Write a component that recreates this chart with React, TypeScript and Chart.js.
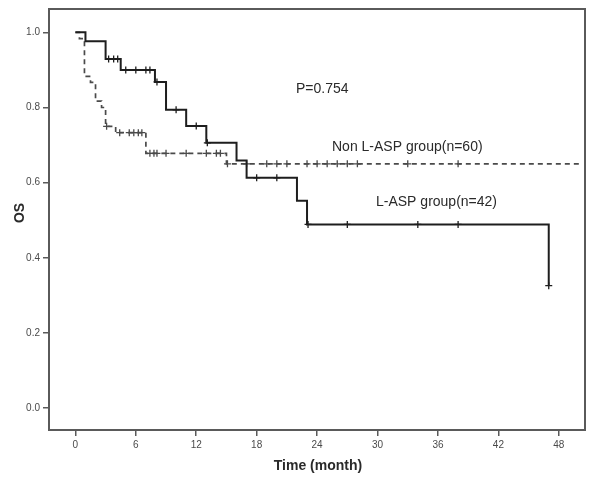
import React, { useEffect, useRef } from 'react';
import { Chart, registerables } from 'chart.js';

Chart.register(...registerables);

// Tick values
const xTicks = [0, 6, 12, 18, 24, 30, 36, 42, 48];
const yTicks = [0, 0.2, 0.4, 0.6, 0.8, 1.0];

// L-ASP group (n=42) — solid Kaplan-Meier steps
const lAspTimes = [0, 1, 3, 4.5, 7.9, 9, 11, 13, 16, 17, 22, 23, 47];
const lAspSurv = [1, 0.976, 0.929, 0.9, 0.868, 0.794, 0.751, 0.706, 0.659, 0.613, 0.552, 0.489, 0.326];
const lAspCensorTimes = [3.3, 3.8, 4.2, 5, 6, 7, 7.4, 8.1, 10, 12, 13.1, 18, 20, 23.1, 27, 34, 38, 47];
const lAspCensorSurv = [0.929, 0.929, 0.929, 0.9, 0.9, 0.9, 0.9, 0.868, 0.794, 0.751, 0.706, 0.613, 0.613, 0.489, 0.489, 0.489, 0.489, 0.326];

// Non L-ASP group (n=60) — dashed Kaplan-Meier steps
const nonTimes = [0, 0.4, 0.9, 1.5, 2.0, 2.6, 3.0, 4.0, 7.0, 15.0, 50.2];
const nonSurv = [1, 0.983, 0.883, 0.867, 0.817, 0.8, 0.75, 0.733, 0.678, 0.65, 0.65];
const nonCensorTimes = [3.1, 4.4, 5.35, 5.8, 6.25, 6.6, 7.4, 7.8, 8.1, 9, 11, 13, 14, 14.4, 15.1, 17, 19, 20, 21, 23, 24, 25, 26, 27, 28, 33, 38];
const nonCensorSurv = [0.75, 0.733, 0.733, 0.733, 0.733, 0.733, 0.678, 0.678, 0.678, 0.678, 0.678, 0.678, 0.678, 0.678, 0.65, 0.65, 0.65, 0.65, 0.65, 0.65, 0.65, 0.65, 0.65, 0.65, 0.65, 0.65, 0.65];

const pText = 'P=0.754';
const nonLabel = 'Non L-ASP group(n=60)';
const lAspLabel = 'L-ASP group(n=42)';
const xTitle = 'Time (month)';
const yTitle = 'OS';

const toXY = (xs: number[], ys: number[]) => xs.map((x, i) => ({ x, y: ys[i] }));

const FRAME = '#5a5a5a';
const TEXT = '#2a2a2a';
const TICK_TEXT = '#4a4a4a';
const SOLID = '#1e1e1e';
const DASHED = '#4a4a4a';
const FONT = "'Liberation Sans', Arial, sans-serif";

const overlay = {
  id: 'overlay',
  afterDraw(chart: any) {
    const { ctx, chartArea: a } = chart;
    ctx.save();
    ctx.strokeStyle = FRAME;
    ctx.lineWidth = 2;
    ctx.strokeRect(a.left, a.top, a.right - a.left, a.bottom - a.top);

    ctx.fillStyle = TEXT;
    ctx.font = `14px ${FONT}`;
    ctx.textAlign = 'left';
    ctx.textBaseline = 'middle';
    ctx.fillText(pText, 296, 89);
    ctx.fillText(nonLabel, 332, 147);
    ctx.fillText(lAspLabel, 376, 202);

    ctx.font = `bold 14px ${FONT}`;
    ctx.textAlign = 'center';
    ctx.fillText(xTitle, 318, 466);
    ctx.translate(20, 213);
    ctx.rotate(-Math.PI / 2);
    ctx.fillText(yTitle, 0, 0);
    ctx.restore();
  },
};

export default function App() {
  const ref = useRef<HTMLCanvasElement | null>(null);

  useEffect(() => {
    if (!ref.current) return;
    const chart = new Chart(ref.current, {
      type: 'line',
      data: {
        datasets: [
          {
            label: 'L-ASP',
            data: toXY(lAspTimes, lAspSurv),
            stepped: 'before',
            borderColor: SOLID,
            borderWidth: 2,
            pointRadius: 0,
            fill: false,
            order: 1,
          },
          {
            label: 'L-ASP censored',
            data: toXY(lAspCensorTimes, lAspCensorSurv),
            showLine: false,
            pointStyle: 'cross',
            pointRadius: 3.5,
            pointBorderWidth: 1.3,
            pointBorderColor: SOLID,
            borderColor: SOLID,
            order: 0,
          },
          {
            label: 'Non L-ASP',
            data: toXY(nonTimes, nonSurv),
            stepped: 'before',
            borderColor: DASHED,
            borderWidth: 1.7,
            borderDash: [5, 4],
            pointRadius: 0,
            fill: false,
            order: 3,
          },
          {
            label: 'Non L-ASP censored',
            data: toXY(nonCensorTimes, nonCensorSurv),
            showLine: false,
            pointStyle: 'cross',
            pointRadius: 3.5,
            pointBorderWidth: 1.3,
            pointBorderColor: DASHED,
            borderColor: DASHED,
            order: 2,
          },
        ],
      },
      options: {
        responsive: false,
        animation: false,
        layout: { padding: { left: 0, right: 15, top: 8, bottom: 0 } },
        plugins: { legend: { display: false }, tooltip: { enabled: false } },
        scales: {
          x: {
            type: 'linear',
            min: -2.62,
            max: 50.6,
            afterBuildTicks: (s: any) => {
              s.ticks = xTicks.map((v) => ({ value: v }));
            },
            afterFit: (s: any) => {
              s.height = 55;
            },
            grid: { display: true, drawOnChartArea: false, drawTicks: true, tickLength: 6, color: FRAME, lineWidth: 1.5 },
            border: { display: true, color: FRAME, width: 2 },
            ticks: {
              autoSkip: false,
              maxRotation: 0,
              padding: 3,
              color: TICK_TEXT,
              font: { family: FONT, size: 10 },
              callback: (v: any) => String(v),
            },
          },
          y: {
            type: 'linear',
            min: -0.058,
            max: 1.062,
            afterBuildTicks: (s: any) => {
              s.ticks = yTicks.map((v) => ({ value: v }));
            },
            afterFit: (s: any) => {
              s.width = 49;
            },
            grid: { display: true, drawOnChartArea: false, drawTicks: true, tickLength: 6, color: FRAME, lineWidth: 1.5 },
            border: { display: true, color: FRAME, width: 2 },
            ticks: {
              autoSkip: false,
              padding: 3,
              color: TICK_TEXT,
              font: { family: FONT, size: 10 },
              callback: (v: any) => Number(v).toFixed(1),
            },
          },
        },
      },
      plugins: [overlay],
    } as any);
    return () => chart.destroy();
  }, []);

  return (
    <div style={{ position: 'absolute', left: 0, top: 0, width: 600, height: 485, background: '#fff' }}>
      <canvas ref={ref} width={600} height={485} />
    </div>
  );
}
